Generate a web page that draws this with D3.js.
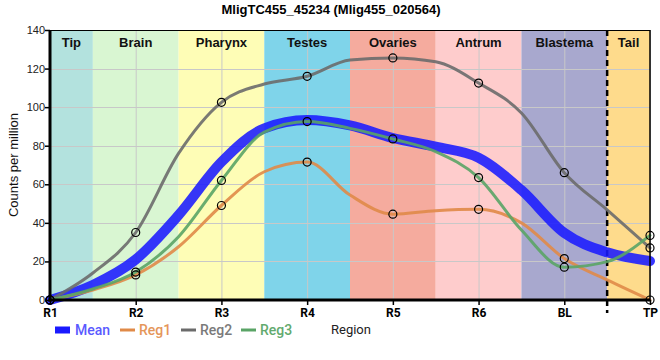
<!DOCTYPE html>
<html>
<head>
<meta charset="utf-8">
<script src="https://cdn.jsdelivr.net/npm/d3@7"></script>
<style>
  body { margin: 0; background: #fff; }
  svg { display: block; }
</style>
</head>
<body>
<svg id="chart" width="660" height="360"></svg>
<script>
// Tick labels along the body, and the coloured regions behind the lines.
let regions = ["R1", "R2", "R3", "R4", "R5", "R6", "BL", "TP"];
let bandNames = ["Tip", "Brain", "Pharynx", "Testes", "Ovaries", "Antrum", "Blastema", "Tail"];
let bandStart = [0, 0.5, 1.5, 2.5, 3.5, 4.5, 5.5, 6.5];
let bandEnd = [0.5, 1.5, 2.5, 3.5, 4.5, 5.5, 6.5, 7];
let bandColors = ["#b3e2de", "#d9f6d2", "#fefdb6", "#7fd4ea", "#f5ab9e", "#fecccc", "#a8a8ce", "#fedb8c"];
let yTicks = [0, 20, 40, 60, 80, 100, 120, 140];

// Values read at every half step (R1, between, R2, between, ... TP)
let meanVals = [0, 7.8, 21, 44, 71.5, 89, 93.3, 90.5, 84, 79.5, 73.8, 57, 34.8, 24.7, 20.2];
let reg1Vals = [0, 5.2, 13, 27.6, 49, 66.5, 71.5, 54.4, 44.5, 46.3, 47, 40, 21.5, 10.4, 0];
let reg2Vals = [0, 14, 35, 76, 102.5, 112, 116, 124.4, 125.5, 123.5, 112.5, 97, 66, 46.7, 27];
let reg3Vals = [0, 5.7, 14.5, 32.8, 62, 87, 92.5, 89, 83.5, 76.9, 63.5, 36.3, 17, 19.9, 33.5];

let series = [
    {name: "Mean", vals: meanVals, color: "#1a1aff", text: "#5a5aff", width: 10, dots: false},
    {name: "Reg1", vals: reg1Vals, color: "#e08a48", text: "#e5965a", width: 3, dots: true},
    {name: "Reg2", vals: reg2Vals, color: "#6b6b6b", text: "#7a7a7a", width: 3, dots: true},
    {name: "Reg3", vals: reg3Vals, color: "#5aa466", text: "#62aa6e", width: 3, dots: true}
];

let svg = d3.select("#chart");
let pLeft = 50, pRight = 650, pTop = 30, pBottom = 300;

let x = d3.scaleLinear().domain([0, 7]).range([pLeft, pRight]);
let y = d3.scaleLinear().domain([0, 140]).range([pBottom, pTop]);

// background bands
svg.append("g").selectAll("rect").data(bandNames).enter().append("rect")
    .attr("x", (d, i) => x(bandStart[i]))
    .attr("y", pTop)
    .attr("width", (d, i) => x(bandEnd[i]) - x(bandStart[i]))
    .attr("height", pBottom - pTop)
    .attr("fill", (d, i) => bandColors[i]);

// grid
let grid = svg.append("g").attr("stroke", "#c8c8c8").attr("stroke-width", 1);
grid.selectAll(".gx").data(regions).enter().append("line")
    .attr("x1", (d, i) => x(i) + 0.5).attr("x2", (d, i) => x(i) + 0.5)
    .attr("y1", pTop).attr("y2", pBottom);
grid.selectAll(".gy").data(yTicks).enter().append("line")
    .attr("x1", pLeft).attr("x2", pRight)
    .attr("y1", d => Math.round(y(d)) + 0.5).attr("y2", d => Math.round(y(d)) + 0.5);

// band labels
svg.append("g").selectAll("text").data(bandNames).enter().append("text")
    .attr("x", (d, i) => (x(bandStart[i]) + x(bandEnd[i])) / 2)
    .attr("y", 47)
    .attr("text-anchor", "middle")
    .attr("font-family", "Liberation Sans, Arial, sans-serif")
    .attr("font-weight", "bold")
    .attr("font-size", 13)
    .attr("fill", "#111")
    .text(d => d);

// dashed line between blastema and tail
svg.append("line")
    .attr("x1", x(6.5)).attr("x2", x(6.5))
    .attr("y1", pTop).attr("y2", pBottom + 13)
    .attr("stroke", "#000").attr("stroke-width", 2.5)
    .attr("stroke-dasharray", "6,4");

// lines
let line = d3.line()
    .x((d, i) => x(i / 2))
    .y(d => y(d))
    .curve(d3.curveMonotoneX);

svg.append("g").selectAll("path").data(series).enter().append("path")
    .attr("d", d => line(d.vals))
    .attr("fill", "none")
    .attr("stroke", d => d.color)
    .attr("stroke-width", d => d.width)
    .attr("stroke-opacity", d => d.dots ? 0.9 : 0.88)
    .attr("stroke-linecap", "round");

// markers at region positions
series.filter(s => s.dots).forEach(s => {
    svg.append("g").selectAll("circle")
        .data(s.vals.filter((v, i) => i % 2 === 0))
        .enter().append("circle")
        .attr("cx", (d, i) => x(i))
        .attr("cy", d => y(d))
        .attr("r", 4)
        .attr("fill", "none")
        .attr("stroke", "#000")
        .attr("stroke-width", 1.2);
});

// frame
svg.append("line").attr("x1", pLeft).attr("x2", pRight).attr("y1", pTop + 0.5).attr("y2", pTop + 0.5)
    .attr("stroke", "#000").attr("stroke-width", 1);
svg.append("line").attr("x1", pRight).attr("x2", pRight).attr("y1", pTop).attr("y2", pBottom)
    .attr("stroke", "#000").attr("stroke-width", 1.5);

// axes
let xAxis = svg.append("g")
    .attr("transform", `translate(0,${pBottom})`)
    .call(d3.axisBottom(x).tickValues(d3.range(regions.length)).tickFormat(i => regions[i]).tickSize(5));
xAxis.select(".domain").attr("stroke-width", 3).attr("d", `M${pLeft - 1.5},0H${pRight}`);
xAxis.selectAll(".tick line").attr("stroke-width", 1.5);
xAxis.selectAll("text")
    .attr("font-family", "Roboto, sans-serif")
    .attr("font-weight", "bold")
    .attr("font-size", 12)
    .attr("fill", "#000")
    .attr("y", 17)
    .attr("dy", null);

let yAxis = svg.append("g")
    .attr("transform", `translate(${pLeft},0)`)
    .call(d3.axisLeft(y).tickValues(yTicks).tickSize(5));
yAxis.select(".domain").attr("stroke-width", 3).attr("d", `M0,${pTop}V${pBottom + 1.5}`);
yAxis.selectAll(".tick line").attr("stroke-width", 1.5);
yAxis.selectAll("text")
    .attr("font-family", "Liberation Sans, Arial, sans-serif")
    .attr("font-size", 11)
    .attr("fill", "#222")
    .attr("x", -5);

// title and axis titles
svg.append("text")
    .attr("x", 331).attr("y", 14)
    .attr("text-anchor", "middle")
    .attr("font-family", "Liberation Sans, Arial, sans-serif")
    .attr("font-weight", "bold")
    .attr("font-size", 13)
    .text("MligTC455_45234 (Mlig455_020564)");

svg.append("text")
    .attr("transform", `translate(18,${(pTop + pBottom) / 2}) rotate(-90)`)
    .attr("text-anchor", "middle")
    .attr("font-family", "Liberation Sans, Arial, sans-serif")
    .attr("font-size", 13)
    .attr("fill", "#111")
    .text("Counts per million");

svg.append("text")
    .attr("x", 331).attr("y", 334)
    .attr("font-family", "Roboto, sans-serif")
    .attr("font-size", 13)
    .attr("fill", "#222")
    .text("Region");

// legend
let legendX = [55, 120, 181, 241];
let legend = svg.append("g").selectAll("g").data(series).enter().append("g")
    .attr("transform", (d, i) => `translate(${legendX[i]},330)`);
legend.append("line")
    .attr("x1", 0).attr("x2", 15)
    .attr("y1", 0).attr("y2", 0)
    .attr("stroke", d => d.color)
    .attr("stroke-width", d => d.dots ? 3 : 7);
legend.append("text")
    .attr("x", d => d.dots ? 19 : 20)
    .attr("y", 5)
    .attr("font-family", "Roboto, sans-serif")
    .attr("font-weight", 500)
    .attr("font-size", 14)
    .attr("fill", d => d.text)
    .text(d => d.name);
</script>
</body>
</html>
